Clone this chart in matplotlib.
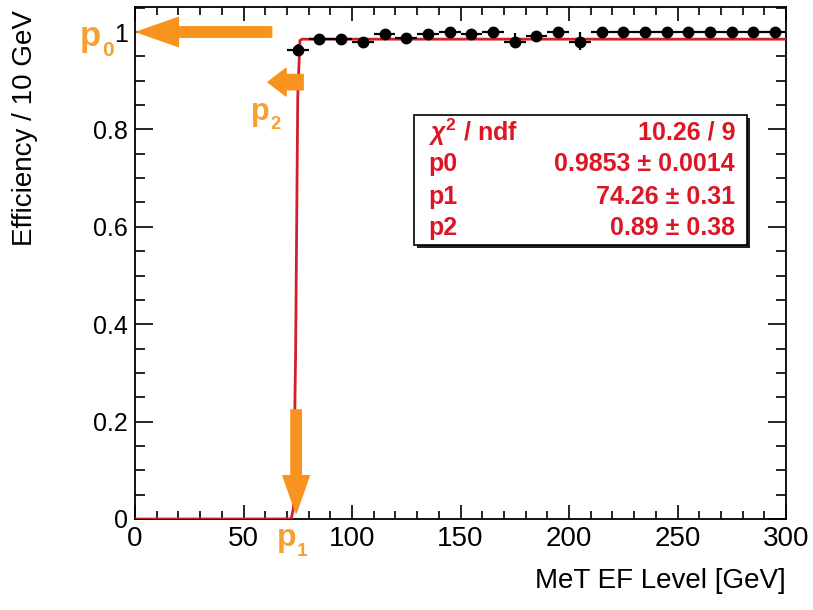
import numpy as np
import matplotlib
matplotlib.use("Agg")
import matplotlib.pyplot as plt
from matplotlib.patches import Rectangle
from matplotlib.ticker import MultipleLocator
from math import erf

plt.rcParams['font.family'] = ['Liberation Sans', 'DejaVu Sans']
plt.rcParams['mathtext.fontset'] = 'custom'
plt.rcParams['mathtext.rm'] = 'Liberation Sans:bold'
plt.rcParams['mathtext.it'] = 'Liberation Sans:bold:italic'
plt.rcParams['mathtext.bf'] = 'Liberation Sans:bold'

# Trigger efficiency per 10 GeV bin (bin centres in GeV)
bin_centres = [75, 85, 95, 105, 115, 125, 135, 145, 155, 165, 175, 185,
               195, 205, 215, 225, 235, 245, 255, 265, 275, 285, 295]
efficiency = [0.963, 0.985, 0.985, 0.980, 0.995, 0.988, 0.996, 0.999, 0.995,
              1.000, 0.979, 0.992, 1.000, 0.979, 1.000, 1.000, 1.000, 1.000,
              1.000, 1.000, 1.000, 1.000, 1.000]
err_low = [0.010, 0.004, 0.004, 0.005, 0.003, 0.004, 0.003, 0.002, 0.003,
           0.003, 0.010, 0.004, 0.003, 0.016, 0.002, 0.002, 0.002, 0.002,
           0.002, 0.002, 0.002, 0.002, 0.002]
err_high = [0.012, 0.004, 0.004, 0.005, 0.003, 0.004, 0.003, 0.001, 0.003,
            0.000, 0.019, 0.004, 0.000, 0.020, 0.000, 0.000, 0.000, 0.000,
            0.000, 0.000, 0.000, 0.000, 0.000]
bin_half_width = 5

# Fit results: p0 * 0.5 * (1 + erf((x - p1) / p2))
p0, p0_err = 0.9853, 0.0014
p1, p1_err = 74.26, 0.31
p2, p2_err = 0.89, 0.38
chi2, ndf = 10.26, 9

stat_labels = [r'$\chi^{2}$ / ndf', 'p0', 'p1', 'p2']
stat_values = [f'{chi2:.2f} / {ndf}',
               f'{p0:.4f} \u00b1 {p0_err:.4f}',
               f'{p1:.2f} \u00b1 {p1_err:.2f}',
               f'{p2:.2f} \u00b1 {p2_err:.2f}']

W, H = 813, 610
fig = plt.figure(figsize=(W / 100, H / 100), dpi=100)
ax = fig.add_axes([135 / W, 1 - 519 / H, (786 - 135) / W, (519 - 7) / H])
ax.set_xlim(0, 300)
ax.set_ylim(0, 512 / 487)

# fit curve sampled on a 1 GeV grid
xf = np.linspace(0, 300, 301)
yf = np.array([p0 * 0.5 * (1 + erf((x - p1) / p2)) for x in xf])
ax.plot(xf, yf, color='#d21f2b', lw=2.0, zorder=3)

ax.errorbar(bin_centres, efficiency, xerr=bin_half_width,
            yerr=[err_low, err_high], fmt='o', color='black', ms=7.5,
            elinewidth=1.6, capsize=0, zorder=4)

# axis styling
ax.xaxis.set_major_locator(MultipleLocator(50))
ax.xaxis.set_minor_locator(MultipleLocator(10))
ax.yaxis.set_major_locator(MultipleLocator(0.2))
ax.yaxis.set_minor_locator(MultipleLocator(0.05))
ax.tick_params(which='both', direction='in', top=True, right=True,
               color='black', width=1.2)
ax.tick_params(axis='x', which='major', length=10, labelsize=20, pad=5)
ax.tick_params(axis='x', which='minor', length=6)
ax.tick_params(axis='y', which='major', length=13, labelsize=18, pad=5)
ax.tick_params(axis='y', which='minor', length=7)
ax.set_yticks([0, 0.2, 0.4, 0.6, 0.8, 1.0])
ax.set_yticklabels(['0', '0.2', '0.4', '0.6', '0.8', '1'])
for s in ax.spines.values():
    s.set_linewidth(1.3)

fig.text(786 / W, 1 - 588 / H, 'MeT EF Level [GeV]', ha='right',
         va='baseline', fontsize=20)
fig.text(25 / W, 1 - 10 / H, 'Efficiency / 10 GeV', rotation=90,
         ha='center', va='top', fontsize=20)

# statistics box with drop shadow
bx0, bx1, by0, by1 = 414, 747, 115, 245
fig.patches.append(Rectangle(((bx0 + 3) / W, 1 - (by1 + 3) / H),
                             (bx1 - bx0) / W, (by1 - by0) / H,
                             transform=fig.transFigure, facecolor='#222222',
                             edgecolor='none', zorder=5))
fig.patches.append(Rectangle((bx0 / W, 1 - by1 / H),
                             (bx1 - bx0) / W, (by1 - by0) / H,
                             transform=fig.transFigure, facecolor='white',
                             edgecolor='black', lw=1.2, zorder=6))
row_y = [132, 164, 197, 228]
stat_red = '#dd1626'
for lab, val, yy in zip(stat_labels, stat_values, row_y):
    fig.text(428 / W, 1 - yy / H, lab, ha='left', va='center',
             fontsize=18, fontweight='bold', color=stat_red, zorder=7)
    fig.text(735 / W, 1 - yy / H, val, ha='right', va='center',
             fontsize=18, fontweight='bold', color=stat_red, zorder=7)

# parameter annotations
orange = '#f7931e'
label_orange = '#f5a030'


def arrow(tip, tail, head_len, head_w, tail_w):
    ax.annotate('', xy=tip, xytext=tail,
                arrowprops=dict(arrowstyle=f'simple,head_length={head_len},'
                                f'head_width={head_w},tail_width={tail_w}',
                                color=orange, shrinkA=0, shrinkB=0,
                                mutation_scale=1), zorder=8,
                annotation_clip=False)


arrow((0.8, 1.0), (63, 1.0), 30, 21, 7.5)
arrow((61.3, 0.897), (77.5, 0.897), 13, 20, 11)
arrow((p1, 0.012), (p1, 0.224), 27, 19, 7.5)


def sub_label(x, y, main, sub, size):
    fig.text(x / W, 1 - y / H, main, fontsize=size, fontweight='bold',
             color=label_orange, ha='left', va='baseline')
    fig.text((x + size * 0.87) / W, 1 - (y + size * 0.42) / H, sub,
             fontsize=size * 0.6, fontweight='bold', color=label_orange,
             ha='left', va='baseline')


sub_label(80, 46, 'p', '0', 25)
sub_label(251, 120, 'p', '2', 22)
sub_label(277, 546, 'p', '1', 23)

fig.savefig('out.png', dpi=100)
